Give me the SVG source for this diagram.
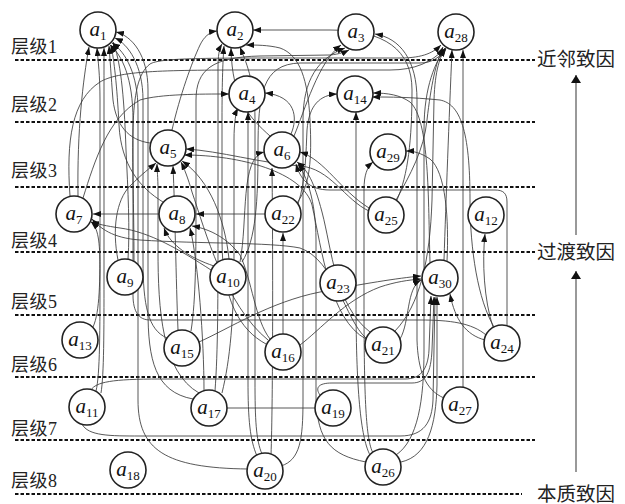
<svg xmlns="http://www.w3.org/2000/svg" width="625" height="504" viewBox="0 0 625 504">
<style>
.bg{fill:#fff}
.lvl{stroke:#111;stroke-width:2;stroke-dasharray:3.5 2;fill:none}
.lab{font-family:"Liberation Serif","Noto Sans CJK SC",serif;font-size:18px;fill:#222;letter-spacing:0.5px}
.rlab{font-family:"Liberation Serif","Noto Sans CJK SC",serif;font-size:19.5px;fill:#222}
.e{fill:none;stroke:#3a3a3a;stroke-width:0.85;marker-end:url(#ah)}
.en{fill:none;stroke:#3a3a3a;stroke-width:0.85}
.n circle{fill:#fff;stroke:#222;stroke-width:1.6}
.n text{font-family:"Liberation Serif",serif;font-size:21px;fill:#111;text-anchor:middle}
.n .s{font-size:13px;font-style:normal}
.ax{stroke:#777;stroke-width:1.5;fill:none;marker-end:url(#ah2)}
</style>
<defs>
<marker id="ah" viewBox="0 0 8 6" refX="8" refY="3" markerWidth="8" markerHeight="6" markerUnits="userSpaceOnUse" orient="auto"><path d="M0,0 L8,3 L0,6 z" fill="#111"/></marker>
<marker id="ah2" viewBox="0 0 8 10" refX="8" refY="5" markerWidth="10" markerHeight="10" markerUnits="userSpaceOnUse" orient="auto"><path d="M0,0 L8,5 L0,10 z" fill="#111"/></marker>
</defs>
<rect class="bg" x="0" y="0" width="625" height="504"/>
<g id="levels">
<line class="lvl" x1="15" y1="60" x2="535" y2="60"/>
<line class="lvl" x1="15" y1="122" x2="535" y2="122"/>
<line class="lvl" x1="15" y1="187" x2="535" y2="187"/>
<line class="lvl" x1="15" y1="252" x2="535" y2="252"/>
<line class="lvl" x1="15" y1="315" x2="535" y2="315"/>
<line class="lvl" x1="15" y1="377" x2="535" y2="377"/>
<line class="lvl" x1="15" y1="440" x2="535" y2="440"/>
<line class="lvl" x1="15" y1="494" x2="522" y2="494"/>
<text class="lab" x="11" y="53">层级1</text>
<text class="lab" x="11" y="111">层级2</text>
<text class="lab" x="11" y="177">层级3</text>
<text class="lab" x="11" y="247">层级4</text>
<text class="lab" x="11" y="308">层级5</text>
<text class="lab" x="11" y="371">层级6</text>
<text class="lab" x="11" y="435">层级7</text>
<text class="lab" x="11" y="487">层级8</text>
<text class="rlab" x="537" y="66">近邻致因</text>
<text class="rlab" x="537" y="259">过渡致因</text>
<text class="rlab" x="537" y="501">本质致因</text>
<line class="ax" x1="576" y1="472" x2="576" y2="271"/>
<line class="ax" x1="576" y1="235" x2="576" y2="75"/>
</g>
<g id="connectors">
<path class="e" d="M78,196 C77,130 83,80 89,47"/>
<path class="e" d="M93,327 C100,312 100,280 100,240 L100,100 C100,75 98,60 97,48"/>
<path class="e" d="M101,393 C104,375 104,330 104,280 L104,100 C104,75 104,60 104,48"/>
<path class="e" d="M96,391 C100,375 100,330 100,270 C100,240 98,228 91,222"/>
<path class="e" d="M150,143 C128,140 116,125 113,100 C111,75 110,58 109,46"/>
<path class="e" d="M163,202 C140,188 121,165 119,125 C117,85 114,60 111,45"/>
<path class="e" d="M128,259 C130,230 128,190 126,150 C124,90 120,60 113,42"/>
<path class="e" d="M167,338 C148,330 143,305 143,260 L143,100 C143,65 128,44 115,38"/>
<path class="e" d="M193,399 C155,392 148,360 148,310 L148,90 C148,55 132,36 116,32"/>
<path class="e" d="M248,469 C165,468 138,450 138,400 L138,110 C138,75 126,52 112,43"/>
<path class="e" d="M486,335 C472,323 450,320 420,320 L150,320 C139,320 133,312 133,295 L133,120 C133,78 122,55 110,45"/>
<path class="e" d="M172,130 C180,95 192,62 200,45 C204,37 209,32 217,31"/>
<path class="e" d="M266,344 C240,330 222,300 222,240 L222,120 C222,80 223,58 224,46"/>
<path class="e" d="M270,136 C250,118 232,100 231,48"/>
<path class="e" d="M397,200 C408,175 412,140 412,90 C412,50 385,30 330,30 L253,30"/>
<path class="e" d="M297,203 C310,185 312,160 310,120 C308,80 300,55 280,48 C268,45 256,45 246,45"/>
<path class="e" d="M215,391 C218,350 218,300 218,220 L218,70 C218,55 219,49 222,44"/>
<path class="e" d="M262,454 C256,440 255,420 255,380 L255,120 C255,80 245,60 240,47"/>
<path class="e" d="M294,136 C305,110 318,62 341,45"/>
<path class="e" d="M281,466 C300,460 303,440 303,400 L303,120 C303,80 318,58 345,48"/>
<path class="e" d="M191,331 C196,300 196,250 196,200 L196,100 C196,70 212,57 260,56 L330,55 C340,54 345,52 349,50"/>
<path class="e" d="M444,398 C425,390 418,370 417,340 L417,100 C417,60 400,38 375,34"/>
<path class="e" d="M463,388 L463,50"/>
<path class="e" d="M444,260 C446,200 449,120 452,50"/>
<path class="e" d="M395,331 C420,305 430,260 432,200 L434,100 C435,70 440,56 446,48"/>
<path class="e" d="M134,262 C134,150 126,82 150,64 C160,58 200,58 300,58 L400,58 C424,58 434,52 441,45"/>
<path class="e" d="M396,200 C410,175 424,150 427,120 C431,85 436,62 443,47"/>
<path class="e" d="M396,455 C418,440 424,400 424,350 L424,130 C424,85 436,62 445,48"/>
<path class="e" d="M70,196 C66,140 72,100 100,82 C118,71 160,70 250,70 L390,70 C415,70 432,62 444,49"/>
<path class="e" d="M242,262 C256,240 258,200 258,150 C258,95 262,64 300,63 L420,63 C432,63 440,57 446,49"/>
<path class="e" d="M257,456 C250,440 248,420 248,380 L248,112"/>
<path class="e" d="M83,198 C95,160 108,118 140,100 C160,94 200,94 229,94"/>
<path class="e" d="M291,134 C298,118 296,96 265,93"/>
<path class="e" d="M370,455 C362,440 356,400 356,300 L356,112"/>
<path class="e" d="M298,204 C306,180 306,150 307,130 C309,105 320,95 337,94"/>
<path class="e" d="M430,262 C428,200 430,120 410,102 C400,95 388,93 373,93"/>
<path class="e" d="M494,327 C478,300 470,250 470,200 C470,130 460,104 440,100 C410,97 390,97 372,97"/>
<path class="e" d="M369,211 C345,200 330,168 300,166 C260,163 220,151 186,149"/>
<path class="e" d="M366,339 C330,320 322,250 312,205 C303,172 240,155 184,155"/>
<path class="e" d="M229,259 C225,220 210,180 182,161"/>
<path class="e" d="M178,330 C176,280 175,210 173,166"/>
<path class="e" d="M199,393 C162,372 158,310 158,250 L158,190 C158,177 157,170 157,164"/>
<path class="e" d="M268,340 C225,305 205,230 192,192 C188,178 184,168 181,162"/>
<path class="e" d="M118,260 C112,230 116,200 130,186 C143,173 150,168 156,163"/>
<path class="e" d="M240,262 C248,220 240,158 264,152"/>
<path class="e" d="M369,208 C340,190 325,160 300,152"/>
<path class="e" d="M370,332 C335,305 332,250 322,212 C314,182 308,170 297,162"/>
<path class="e" d="M271,455 C273,400 273,250 272,168"/>
<path class="e" d="M507,326 L507,202 C507,193 503,190 495,190 L330,190 C308,190 300,178 296,164"/>
<path class="e" d="M366,462 C330,455 318,440 316,400 L316,240 C316,200 306,175 298,164"/>
<path class="e" d="M373,453 C366,440 364,400 364,300 L364,190 C364,175 367,167 373,162"/>
<path class="e" d="M447,261 C449,220 446,172 430,159 C421,153 414,151 406,151"/>
<path class="e" d="M159,214 L93,214"/>
<path class="e" d="M211,270 C180,250 150,232 120,228 C106,226 98,224 91,222"/>
<path class="e" d="M366,338 C345,320 335,260 300,248 C270,242 200,244 140,240 C112,238 100,228 92,219"/>
<path class="e" d="M265,214 L196,214"/>
<path class="e" d="M214,266 C190,258 170,245 164,228"/>
<path class="e" d="M204,391 C204,340 198,260 190,228"/>
<path class="e" d="M270,339 C255,320 252,280 240,255 C225,235 205,228 192,226"/>
<path class="e" d="M283,334 L283,233"/>
<path class="e" d="M222,393 C230,360 234,320 234,250 L234,140 C234,122 236,112 238,108"/>
<path class="e" d="M493,327 C484,300 482,262 485,234"/>
<path class="e" d="M400,339 C410,322 406,288 421,280"/>
<path class="e" d="M401,462 C428,456 436,425 437,385 L437,297"/>
<path class="e" d="M82,424 C88,436 110,436 140,436 L400,436 C424,436 432,422 433,400 L435,297"/>
<path class="e" d="M300,345 C320,330 345,300 380,287 C395,282 408,280 421,279"/>
<path class="e" d="M199,342 C230,328 270,302 320,292 C362,284 398,278 421,276"/>
<path class="e" d="M320,395 C315,388 318,383 332,383 L412,383 C426,383 431,372 432,350 L434,297"/>
<path class="e" d="M91,390 C96,382 112,379 160,379 L405,379 C420,379 428,370 429,350 L431,296"/>
<path class="e" d="M485,340 C466,335 455,320 450,294"/>
<path class="en" d="M227,408 L315,408"/>
</g>
<g id="a1" class="n"><circle cx="98" cy="30" r="18"/><text x="98" y="36"><tspan font-style="italic">a</tspan><tspan class="s" dy="4">1</tspan></text></g>
<g id="a2" class="n"><circle cx="235" cy="30" r="18"/><text x="235" y="36"><tspan font-style="italic">a</tspan><tspan class="s" dy="4">2</tspan></text></g>
<g id="a3" class="n"><circle cx="356" cy="32" r="18"/><text x="356" y="38"><tspan font-style="italic">a</tspan><tspan class="s" dy="4">3</tspan></text></g>
<g id="a28" class="n"><circle cx="456" cy="32" r="18"/><text x="456" y="38"><tspan font-style="italic">a</tspan><tspan class="s" dy="4">28</tspan></text></g>
<g id="a4" class="n"><circle cx="247" cy="94" r="18"/><text x="247" y="100"><tspan font-style="italic">a</tspan><tspan class="s" dy="4">4</tspan></text></g>
<g id="a14" class="n"><circle cx="355" cy="94" r="18"/><text x="355" y="100"><tspan font-style="italic">a</tspan><tspan class="s" dy="4">14</tspan></text></g>
<g id="a5" class="n"><circle cx="168" cy="148" r="18"/><text x="168" y="154"><tspan font-style="italic">a</tspan><tspan class="s" dy="4">5</tspan></text></g>
<g id="a6" class="n"><circle cx="282" cy="150" r="18"/><text x="282" y="156"><tspan font-style="italic">a</tspan><tspan class="s" dy="4">6</tspan></text></g>
<g id="a29" class="n"><circle cx="388" cy="152" r="18"/><text x="388" y="158"><tspan font-style="italic">a</tspan><tspan class="s" dy="4">29</tspan></text></g>
<g id="a7" class="n"><circle cx="74" cy="214" r="18"/><text x="74" y="220"><tspan font-style="italic">a</tspan><tspan class="s" dy="4">7</tspan></text></g>
<g id="a8" class="n"><circle cx="177" cy="214" r="18"/><text x="177" y="220"><tspan font-style="italic">a</tspan><tspan class="s" dy="4">8</tspan></text></g>
<g id="a22" class="n"><circle cx="283" cy="214" r="18"/><text x="283" y="220"><tspan font-style="italic">a</tspan><tspan class="s" dy="4">22</tspan></text></g>
<g id="a25" class="n"><circle cx="386" cy="215" r="18"/><text x="386" y="221"><tspan font-style="italic">a</tspan><tspan class="s" dy="4">25</tspan></text></g>
<g id="a12" class="n"><circle cx="486" cy="215" r="18"/><text x="486" y="221"><tspan font-style="italic">a</tspan><tspan class="s" dy="4">12</tspan></text></g>
<g id="a9" class="n"><circle cx="125" cy="277" r="18"/><text x="125" y="283"><tspan font-style="italic">a</tspan><tspan class="s" dy="4">9</tspan></text></g>
<g id="a10" class="n"><circle cx="228" cy="277" r="18"/><text x="228" y="283"><tspan font-style="italic">a</tspan><tspan class="s" dy="4">10</tspan></text></g>
<g id="a23" class="n"><circle cx="338" cy="283" r="18"/><text x="338" y="289"><tspan font-style="italic">a</tspan><tspan class="s" dy="4">23</tspan></text></g>
<g id="a30" class="n"><circle cx="440" cy="278" r="18"/><text x="440" y="284"><tspan font-style="italic">a</tspan><tspan class="s" dy="4">30</tspan></text></g>
<g id="a13" class="n"><circle cx="80" cy="340" r="18"/><text x="80" y="346"><tspan font-style="italic">a</tspan><tspan class="s" dy="4">13</tspan></text></g>
<g id="a15" class="n"><circle cx="182" cy="348" r="18"/><text x="182" y="354"><tspan font-style="italic">a</tspan><tspan class="s" dy="4">15</tspan></text></g>
<g id="a16" class="n"><circle cx="283" cy="352" r="18"/><text x="283" y="358"><tspan font-style="italic">a</tspan><tspan class="s" dy="4">16</tspan></text></g>
<g id="a21" class="n"><circle cx="383" cy="345" r="18"/><text x="383" y="351"><tspan font-style="italic">a</tspan><tspan class="s" dy="4">21</tspan></text></g>
<g id="a24" class="n"><circle cx="502" cy="343" r="18"/><text x="502" y="349"><tspan font-style="italic">a</tspan><tspan class="s" dy="4">24</tspan></text></g>
<g id="a11" class="n"><circle cx="87" cy="407" r="18"/><text x="87" y="413"><tspan font-style="italic">a</tspan><tspan class="s" dy="4">11</tspan></text></g>
<g id="a17" class="n"><circle cx="209" cy="408" r="18"/><text x="209" y="414"><tspan font-style="italic">a</tspan><tspan class="s" dy="4">17</tspan></text></g>
<g id="a19" class="n"><circle cx="333" cy="408" r="18"/><text x="333" y="414"><tspan font-style="italic">a</tspan><tspan class="s" dy="4">19</tspan></text></g>
<g id="a27" class="n"><circle cx="460" cy="405" r="18"/><text x="460" y="411"><tspan font-style="italic">a</tspan><tspan class="s" dy="4">27</tspan></text></g>
<g id="a18" class="n"><circle cx="128" cy="470" r="18"/><text x="128" y="476"><tspan font-style="italic">a</tspan><tspan class="s" dy="4">18</tspan></text></g>
<g id="a20" class="n"><circle cx="265" cy="471" r="18"/><text x="265" y="477"><tspan font-style="italic">a</tspan><tspan class="s" dy="4">20</tspan></text></g>
<g id="a26" class="n"><circle cx="383" cy="467" r="18"/><text x="383" y="473"><tspan font-style="italic">a</tspan><tspan class="s" dy="4">26</tspan></text></g>
</svg>
